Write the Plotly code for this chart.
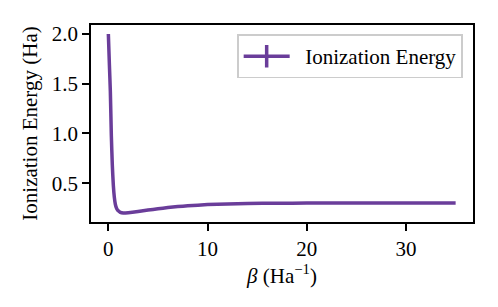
import plotly.graph_objects as go

beta = [0, 0.1, 0.2, 0.3, 0.4, 0.5, 0.6, 0.7, 0.8, 0.9, 1.0, 1.2, 1.5, 2, 3, 4, 5, 6, 7, 8,
        10, 12, 14, 17, 20, 25, 30, 35]
energy = [2.0, 1.70, 1.42, 0.98, 0.68, 0.48, 0.36, 0.29, 0.255, 0.235, 0.222, 0.207, 0.200,
          0.203, 0.215, 0.230, 0.243, 0.255, 0.265, 0.273, 0.285, 0.292, 0.296, 0.299,
          0.300, 0.301, 0.302, 0.302]

x_ticks = [0, 10, 20, 30]
y_ticks = [0.5, 1.0, 1.5, 2.0]
y_tick_labels = ["0.5", "1.0", "1.5", "2.0"]
series_name = "Ionization Energy"

color = "#6a3d9a"
font = "'Liberation Serif', 'Times New Roman', 'DejaVu Serif', serif"
fsize = 21

fig = go.Figure()
fig.add_trace(go.Scatter(x=beta, y=energy, mode="lines",
                         line=dict(color=color, width=3.5, shape="spline", smoothing=0.6),
                         showlegend=False))
fig.add_trace(go.Scatter(x=[None], y=[None], mode="lines+markers",
                         name="\u00a0\u00a0" + series_name,
                         line=dict(color=color, width=3.5),
                         marker=dict(symbol="line-ns", size=16,
                                     line=dict(color=color, width=3.5))))

axis_common = dict(showline=True, linecolor="black", linewidth=1.6, mirror=True,
                   ticks="outside", ticklen=7, tickwidth=1.6, tickcolor="black",
                   showgrid=False, zeroline=False,
                   tickfont=dict(family=font, size=fsize, color="black"))

fig.update_xaxes(range=[-1.75, 36.75], tickvals=x_ticks,
                 title=dict(text="<i>β</i> (Ha<sup>−1</sup>)", standoff=4,
                            font=dict(family=font, size=fsize, color="black")),
                 **axis_common)
fig.update_yaxes(range=[0.11, 2.09], tickvals=y_ticks, ticktext=y_tick_labels,
                 title=dict(text="Ionization Energy (Ha)", standoff=8,
                            font=dict(family=font, size=fsize, color="black")),
                 **axis_common)

# page body has an 8px default margin, so the figure is sized to fit inside the window
fig.update_layout(
    width=490, height=299,
    margin=dict(l=83, r=25, t=17, b=85, autoexpand=False),
    paper_bgcolor="white", plot_bgcolor="white",
    font=dict(family=font, size=fsize, color="black"),
    legend=dict(x=0.974, y=0.952, xanchor="right", yanchor="top",
                bgcolor="rgba(255,255,255,0.8)", bordercolor="#cccccc", borderwidth=1.6,
                itemwidth=46, font=dict(family=font, size=fsize, color="black")),
)

fig.write_html("out.html")
